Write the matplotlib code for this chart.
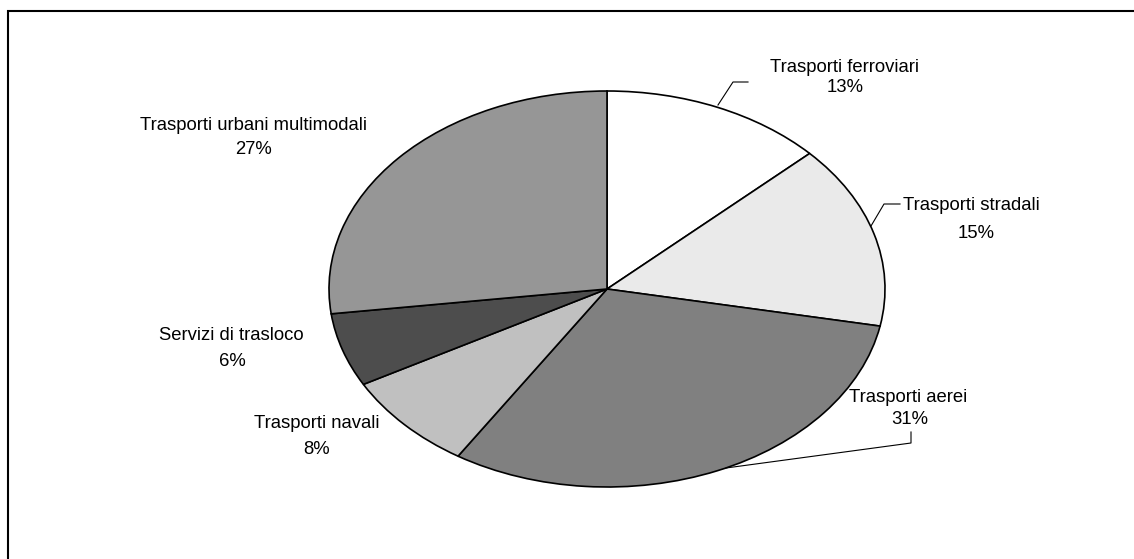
import matplotlib
matplotlib.use("Agg")
import matplotlib.pyplot as plt
from matplotlib.patches import Rectangle

plt.rcParams['font.family'] = ['Liberation Sans', 'DejaVu Sans']

categories = ["Trasporti ferroviari", "Trasporti stradali", "Trasporti aerei",
              "Trasporti navali", "Servizi di trasloco", "Trasporti urbani multimodali"]
shares = [13, 15, 31, 8, 6, 27]
colors = ["#FFFFFF", "#EAEAEA", "#808080", "#C0C0C0", "#4D4D4D", "#969696"]

W, H = 1134, 559
fig = plt.figure(figsize=(W / 100, H / 100), dpi=100)

# pie occupies an elliptical region: center (607, 289), radii 278 x 198 px
cx, cy, rx, ry = 607, 289, 278, 198
ax = fig.add_axes([(cx - rx) / W, 1 - (cy + ry) / H, 2 * rx / W, 2 * ry / H])
ax.pie(shares, colors=colors, startangle=90, counterclock=False,
       wedgeprops=dict(edgecolor="black", linewidth=1.2))
ax.set_aspect('auto')
ax.set_xlim(-1, 1)
ax.set_ylim(-1, 1)
ax.axis('off')


def d(px, py):
    """pixel position -> data coordinates of the stretched pie axes"""
    return ((px - cx) / rx, (cy - py) / ry)


fs = 13.3
# (name line position, percent line position) in pixels
label_pos = [((845, 67), (845, 88)),
             ((971, 205), (976, 234)),
             ((908, 397), (910, 420)),
             ((317, 424), (317, 450)),
             ((231, 336), (232, 361)),
             ((253, 126), (253, 149))]

for name, val, (p1, p2) in zip(categories, shares, label_pos):
    ax.text(*d(*p1), name, ha='center', va='center', fontsize=fs, clip_on=False)
    ax.text(*d(*p2), f"{val}%", ha='center', va='center', fontsize=fs, clip_on=False)

# leader lines
leaders = [[(718, 105), (733, 82), (748, 82)],
           [(871, 226), (884, 204), (900, 204)],
           [(726, 468), (911, 443), (911, 432)]]
for pts in leaders:
    xs, ys = zip(*[d(*p) for p in pts])
    ax.plot(xs, ys, color='black', linewidth=0.8, clip_on=False)

# chart frame
fig.patches.append(Rectangle((7.5 / W, -0.1), 1.2, 1 - 11 / H + 0.1,
                             transform=fig.transFigure, fill=False,
                             edgecolor='black', linewidth=1.5))

fig.savefig("out.png", dpi=100)
